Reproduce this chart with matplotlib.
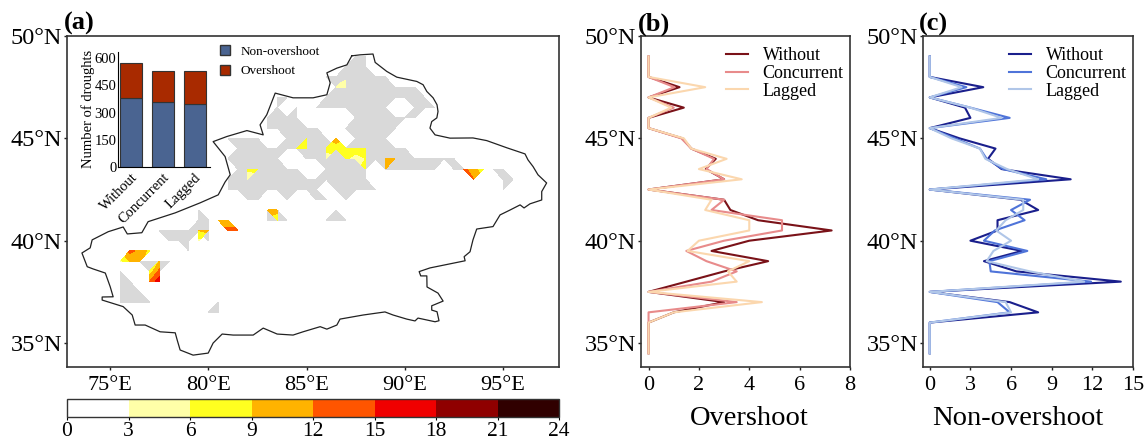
import numpy as np
import matplotlib
matplotlib.use("Agg")
import matplotlib.pyplot as plt
import matplotlib.colors as mcolors
from matplotlib.patches import Patch
from matplotlib.transforms import ScaledTranslation

plt.rcParams['font.family'] = ['Liberation Serif', 'DejaVu Sans']

# region outline, clockwise from the north tip
border_lon = [87.30, 87.72, 88.38, 88.49, 89.08, 89.59, 90.61, 90.93, 91.12, 91.44, 91.64, 91.69, 91.63,
              91.37, 91.28, 91.54, 92.30, 93.47, 94.17, 95.19, 96.12, 96.27, 96.53, 96.78, 97.22, 96.97,
              96.97, 96.37, 96.07, 95.87, 95.36, 94.85, 94.49, 93.66, 93.47, 93.32, 93.02, 93.07, 91.28,
              90.73, 90.81, 91.12, 91.13, 91.69, 91.95, 91.37, 91.37, 91.64, 91.74, 91.54, 90.67, 90.52,
              90.10, 89.40, 88.99, 87.88, 86.70, 86.54, 86.03, 85.69, 84.82, 84.31, 83.50, 82.79, 82.28,
              81.26, 80.70, 80.24, 79.99, 79.22, 78.56, 78.41, 78.31, 77.54, 76.78, 76.27, 76.12, 75.66,
              74.59, 74.59, 75.15, 75.00, 74.75, 74.13, 73.83, 73.56, 73.98, 74.08, 74.90, 75.66, 75.87,
              76.61, 76.93, 78.31, 79.58, 80.50, 80.85, 81.11, 80.85, 80.24, 80.94, 81.96, 82.79, 82.63,
              82.97, 83.40, 84.31, 85.33, 86.03, 86.20, 86.03, 86.54, 87.05, 87.30]
border_lat = [49.03, 49.08, 49.12, 48.71, 48.27, 47.99, 47.78, 47.62, 47.29, 46.98, 46.64, 46.31, 46.00,
              45.82, 45.50, 45.17, 45.01, 45.02, 44.89, 44.54, 44.24, 43.95, 43.62, 43.22, 42.82, 42.40,
              41.99, 41.80, 41.60, 41.75, 41.50, 41.26, 40.69, 40.57, 40.04, 39.46, 39.22, 39.02, 38.67,
              38.49, 38.28, 38.28, 37.74, 37.44, 37.05, 36.82, 36.61, 36.53, 36.09, 36.04, 36.22, 36.08,
              36.17, 36.37, 36.52, 36.37, 36.17, 35.88, 35.68, 35.80, 35.55, 35.39, 35.44, 35.73, 35.39,
              35.39, 35.44, 35.00, 34.51, 34.41, 34.66, 35.15, 35.50, 35.55, 35.88, 35.88, 36.37, 36.78,
              37.10, 37.25, 37.26, 37.75, 38.42, 38.62, 38.73, 39.40, 39.65, 40.04, 40.44, 40.67, 40.33,
              40.39, 40.93, 41.36, 41.85, 42.24, 42.87, 43.22, 44.11, 44.84, 45.09, 45.38, 45.17, 45.66,
              46.15, 47.21, 46.98, 46.98, 47.13, 47.71, 48.20, 48.43, 48.59, 49.03]

# grid cells with any drought data: latitude -> runs of longitude
gray_rows = {
    49.0: [(87.5, 88)],
    48.5: [(87, 88)],
    48.0: [(86, 89)],
    47.5: [(86.5, 90.5)],
    47.0: [(83.5, 84), (86, 91)],
    46.5: [(83.5, 83.5), (84.5, 84.5), (85.5, 89), (90.5, 91.5)],
    46.0: [(83, 83.5), (84, 84.5), (87.5, 90.5)],
    45.5: [(83, 85.5), (87, 89.5)],
    45.0: [(81, 82.5), (84, 86), (87.5, 89)],
    44.5: [(81.5, 90)],
    44.0: [(81, 83.5), (85, 92.5)],
    43.5: [(81.5, 84.5), (86, 88), (89, 91.5), (92.5, 95)],
    43.0: [(81, 88), (95, 95.5)],
    42.5: [(81, 85.5), (86.5, 88.5), (95, 95)],
    42.0: [(82, 82.5), (84, 84), (85.5, 86), (87, 87)],
    41.5: [(79.5, 79.5), (83, 83.5), (86.5, 86.5)],
    41.0: [(79.5, 80), (83, 84), (86, 87)],
    40.5: [(77.5, 80)],
    40.0: [(78, 79), (80, 80)],
    39.5: [(79, 79)],
    39.0: [(76.5, 78)],
    38.5: [(75.5, 75.5), (77, 77.5)],
    38.0: [(75.5, 76)],
    37.5: [(75.5, 76.5)],
    37.0: [(75.5, 77), (80.5, 80.5)],
    36.5: [(80, 80.5)],
}

# grid cells with three or more overshoot droughts
hot_lon = [85, 84.5, 85,
           86.5, 86, 86.5, 87, 87.5, 88, 86, 87, 87.5, 88, 88,
           82, 82.5, 82,
           89, 89.5, 89,
           93, 93.5, 94, 93.5,
           87, 86.5, 87,
           83, 83.5, 83.5,
           80.5, 81, 81, 81.5,
           79.5, 80, 79.5,
           76, 76.5, 77, 75.5, 76, 76.5,
           77.5, 77, 77.5, 77, 77.5]
hot_lat = [45, 44.5, 44.5,
           45, 44.5, 44.5, 44.5, 44.5, 44.5, 44, 44, 44, 44, 43.5,
           43.5, 43.5, 43,
           44, 44, 43.5,
           43.5, 43.5, 43.5, 43,
           47.5, 47.5, 48,
           41.5, 41.5, 41,
           41, 41, 40.5, 40.5,
           40.5, 40.5, 40,
           39.5, 39.5, 39.5, 39, 39, 39,
           39, 38.5, 38.5, 38, 38]
hot_val = [7, 7, 6.5,
           10, 7, 8, 7, 7.5, 7, 4, 6.5, 4.5, 6, 7,
           6.5, 7, 4,
           10, 10, 9,
           13, 10, 7, 12,
           5, 3.5, 2,
           11, 10, 7,
           10, 10, 13, 13,
           9, 10, 5,
           13, 11, 8, 5, 9, 10,
           9, 7, 13, 12, 17]

# inset bars
bar_labels = ['Without', 'Concurrent', 'Lagged']
non_overshoot = [378, 356, 349]
overshoot = [198, 174, 183]

# latitude profiles
prof_lat = [49, 48.5, 48, 47.5, 47, 46.5, 46, 45.5, 45, 44.5, 44, 43.5, 43, 42.5, 42,
            41.5, 41, 40.5, 40, 39.5, 39, 38.5, 38, 37.5, 37, 36.5, 36, 35.5, 35, 34.5]
over_without = [0, 0, 0, 1.23, 0, 1.4, 0, 0, 1.35, 1.7, 2.67, 2.27, 3.0, 0, 3.0,
                3.25, 4.35, 7.27, 4.0, 2.5, 4.75, 3.0, 1.5, 0, 3.0, 1.0, 0, 0, 0, 0]
over_concurrent = [0, 0, 0, 1.03, 0, 1.0, 0, 0, 1.3, 1.7, 2.6, 2.3, 3.0, 0, 3.0,
                   2.5, 5.3, 5.3, 3.0, 1.5, 2.3, 3.5, 2.5, 0, 3.5, 0, 0, 0, 0, 0]
over_lagged = [0, 0, 0, 2.25, 0, 0.9, 0, 0, 1.4, 1.7, 3.1, 2.0, 3.7, 0, 2.5,
               2.25, 4.0, 4.0, 2.0, 1.55, 4.0, 3.15, 3.5, 0, 4.5, 1.0, 0, 0, 0, 0]
non_without = [0, 0, 0, 3.95, 0, 2.6, 3.0, 0, 2.2, 4.85, 4.3, 5.3, 10.4, 0, 6.7,
               8.0, 5.0, 5.0, 3.0, 6.8, 4.0, 6.4, 14.1, 0, 5.9, 8.0, 0, 0, 0, 0]
non_concurrent = [0, 0, 0, 2.7, 0, 3.0, 5.9, 0, 1.85, 3.7, 4.2, 5.4, 8.6, 0, 7.4,
                  6.0, 7.0, 4.8, 4.0, 7.2, 4.4, 4.5, 11.9, 0, 5.0, 5.9, 0, 0, 0, 0]
non_lagged = [0, 0, 0, 2.35, 0, 3.0, 5.3, 0, 1.6, 3.7, 4.1, 5.7, 8.0, 0, 6.9,
              6.9, 5.6, 4.9, 6.0, 4.7, 4.2, 7.4, 11.4, 0, 5.6, 6.0, 0, 0, 0, 0]

level_bounds = [0, 3, 6, 9, 12, 15, 18, 21, 24]
level_colors = ['#ffffff', '#ffffa8', '#ffff20', '#ffb300', '#ff5500', '#f00000', '#8f0000', '#300000']
over_colors = ['#7a1218', '#e88b8b', '#fbd7ae']
non_colors = ['#1a1f8c', '#4f74d9', '#b0c6e8']

W, H = 1144, 442
fig = plt.figure(figsize=(W / 100, H / 100), dpi=100)


def axes_px(left, top, right, bottom):
    """Add axes from pixel edges of the figure."""
    return fig.add_axes([left / W, 1 - bottom / H, (right - left) / W, (bottom - top) / H])


def lat_ticks(ax):
    ax.set_ylim(33.83, 50)
    ax.set_yticks([35, 40, 45, 50])
    ax.set_yticklabels(['35°N', '40°N', '45°N', '50°N'], fontsize=17.5)
    ax.tick_params(axis='y', length=2.5, width=1, pad=1, color='#222222')
    for s in ax.spines.values():
        s.set_linewidth(1.2)
        s.set_color('#333333')


# (a) map
ax = axes_px(67, 36, 559, 367)
lon_grid = np.arange(73, 98.01, 0.5)
lat_grid = np.arange(34.5, 49.01, 0.5)
gray = np.full((lat_grid.size, lon_grid.size), np.nan)
for lat, runs in gray_rows.items():
    row = np.argmin(np.abs(lat_grid - lat))
    for lo, hi in runs:
        gray[row, (lon_grid >= lo) & (lon_grid <= hi)] = 1
ax.contourf(lon_grid, lat_grid, np.ma.masked_invalid(gray), levels=[0, 2], colors=['#d9d9d9'], corner_mask=True)

hot = np.full(gray.shape, np.nan)
for lo, la, v in zip(hot_lon, hot_lat, hot_val):
    hot[np.argmin(np.abs(lat_grid - la)), np.argmin(np.abs(lon_grid - lo))] = v
ax.contourf(lon_grid, lat_grid, np.ma.masked_invalid(hot), levels=level_bounds[1:], colors=level_colors[1:],
            corner_mask=True)
ax.plot(border_lon, border_lat, color='#222222', lw=0.9)
ax.set_xlim(72.8, 97.85)
ax.set_xticks([75, 80, 85, 90, 95])
ax.set_xticklabels(['75°E', '80°E', '85°E', '90°E', '95°E'], fontsize=16)
ax.tick_params(axis='x', length=2.5, width=1, pad=4, color='#222222')
lat_ticks(ax)

# inset bars
inset = axes_px(118, 52, 210, 166.7)
x = np.arange(len(bar_labels))
inset.bar(x, non_overshoot, width=0.69, color='#4a6491', edgecolor='#333333', lw=0.8)
inset.bar(x, overshoot, width=0.69, bottom=non_overshoot, color='#a82a00', edgecolor='#333333', lw=0.8)
inset.set_facecolor('none')
inset.set_xlim(-0.4, 2.48)
inset.set_ylim(0, 635)
inset.set_yticks([0, 150, 300, 450, 600])
inset.set_xticks(x)
inset.set_xticklabels(bar_labels, rotation=45, ha='right', rotation_mode='anchor', fontsize=10.5)
shift = ScaledTranslation(-6 / 100, 0, fig.dpi_scale_trans)
for t in inset.get_xticklabels():
    t.set_transform(t.get_transform() + shift)
inset.tick_params(axis='y', labelsize=10.5, length=0, pad=1)
inset.tick_params(axis='x', length=0, pad=3)
inset.set_ylabel('Number of droughts', fontsize=10.5, labelpad=0)
inset.spines[['top', 'right']].set_visible(False)

fig.legend(handles=[Patch(facecolor='#4a6491', edgecolor='#333333', label='Non-overshoot'),
                    Patch(facecolor='#a82a00', edgecolor='#333333', label='Overshoot')],
           loc='upper left', bbox_to_anchor=(212 / W, 1 - 37 / H), frameon=False, fontsize=9.5,
           handlelength=0.8, handleheight=0.8, handletextpad=0.75, labelspacing=0.55, borderpad=0.1)

# colour bar
cax = axes_px(67, 399, 559, 417)
cmap = mcolors.ListedColormap(level_colors)
norm = mcolors.BoundaryNorm(level_bounds, cmap.N)
cb = fig.colorbar(plt.cm.ScalarMappable(norm=norm, cmap=cmap), cax=cax, orientation='horizontal',
                  ticks=level_bounds, spacing='uniform')
cb.ax.tick_params(labelsize=15.5, length=2, width=0.8, pad=1.5)
cb.outline.set_linewidth(1.0)
cb.outline.set_edgecolor('#333333')

# (b) and (c) profiles
ax_b = axes_px(641, 36, 850, 367)
for vals, col, name in zip([over_without, over_concurrent, over_lagged], over_colors, bar_labels):
    ax_b.plot(vals, prof_lat, color=col, lw=1.5, label=name)
ax_b.set_xlim(-0.3, 8)
ax_b.set_xticks([0, 2, 4, 6, 8])
ax_b.set_xlabel('Overshoot', fontsize=20.5, labelpad=8, x=0.519)

ax_c = axes_px(923, 36, 1133, 367)
for vals, col, name in zip([non_without, non_concurrent, non_lagged], non_colors, bar_labels):
    ax_c.plot(vals, prof_lat, color=col, lw=1.5, label=name)
ax_c.set_xlim(-0.5, 15)
ax_c.set_xticks([0, 3, 6, 9, 12, 15])
ax_c.set_xlabel('Non-overshoot', fontsize=20.5, labelpad=8, x=0.452)

for a in (ax_b, ax_c):
    lat_ticks(a)
    a.tick_params(axis='x', labelsize=16, length=2.5, width=1, pad=4, color='#222222')
    a.legend(loc='upper right', frameon=False, fontsize=13, handlelength=1.25,
             labelspacing=0.05, handletextpad=0.8, borderaxespad=0.3, bbox_to_anchor=(1.03, 1.005))

for label, px, py in [('(a)', 64, 23), ('(b)', 638, 24), ('(c)', 919, 24)]:
    fig.text(px / W, 1 - py / H, label, fontsize=19, fontweight='bold', va='center', ha='left')

fig.savefig('out.png', dpi=100)
